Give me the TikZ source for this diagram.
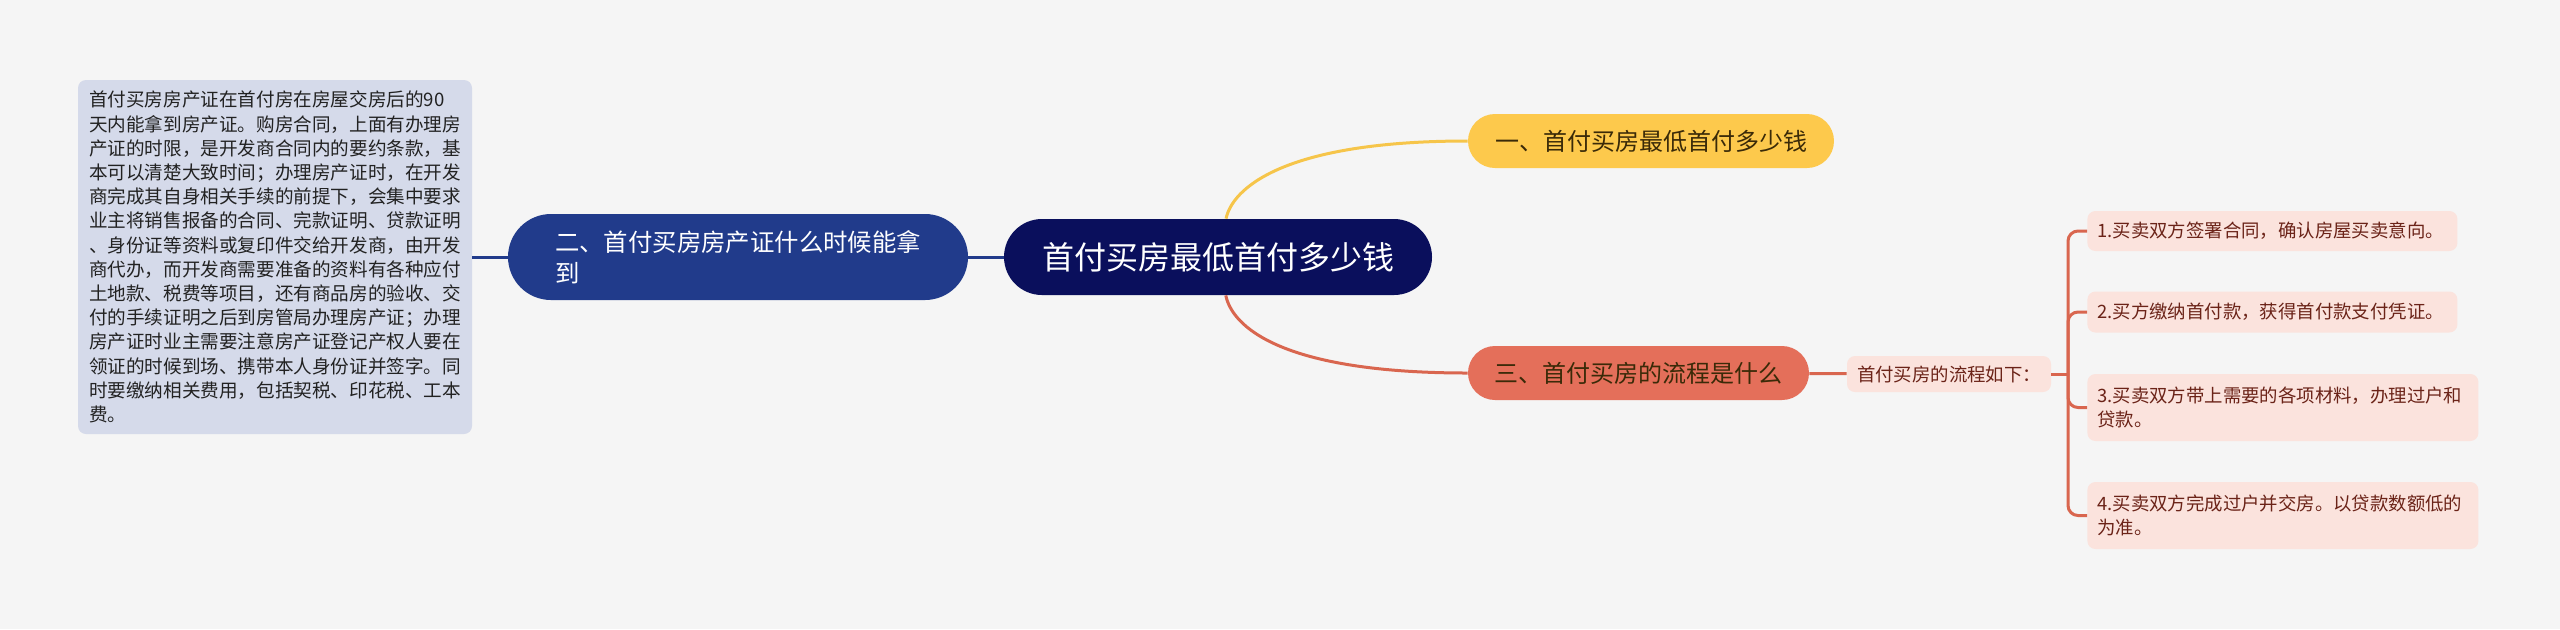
\documentclass[tikz,border=0pt]{standalone}
\usepackage{fontspec}
\setmainfont{Noto Sans CJK SC}
\usetikzlibrary{positioning,calc,backgrounds}
\definecolor{paper}{HTML}{F5F5F5}
\definecolor{rootc}{HTML}{0A0F5C}
\definecolor{bluec}{HTML}{213B8B}
\definecolor{notec}{HTML}{D5DAEA}
\definecolor{yellowc}{HTML}{FDC94C}
\definecolor{yellowln}{HTML}{F6C54A}
\definecolor{redc}{HTML}{E46F5A}
\definecolor{redln}{HTML}{D9664F}
\definecolor{pinkc}{HTML}{FBE3DD}
\definecolor{inkdark}{HTML}{222222}
\definecolor{inkbrown}{HTML}{3A2A08}
\definecolor{inkred}{HTML}{6B2318}
\tikzset{
  rootbox/.style={fill=rootc,text=white,rounded corners=19pt,minimum width=214pt,minimum height=38pt,font=\fontsize{16}{19}\selectfont},
  topic/.style={rounded corners=13.5pt,minimum height=27pt,font=\fontsize{12}{14}\selectfont},
  yellowbox/.style={topic,fill=yellowc,text=inkbrown,minimum width=183pt},
  redbox/.style={topic,fill=redc,text=inkbrown,minimum width=170.5pt},
  bluebox/.style={fill=bluec,text=white,rounded corners=21.5pt,minimum width=230pt,minimum height=43pt,align=left,font=\fontsize{12.2}{15.5}\selectfont},
  notebox/.style={fill=notec,text=inkdark,rounded corners=4pt,minimum width=197pt,minimum height=177pt,align=left,font=\fontsize{9.3}{12.1}\selectfont},
  listbox/.style={fill=pinkc,text=inkred,rounded corners=4pt,minimum width=102pt,minimum height=18pt,font=\fontsize{9.2}{11}\selectfont},
  stepbox/.style={fill=pinkc,text=inkred,rounded corners=4pt,anchor=west,align=left,inner xsep=5pt,font=\fontsize{9.2}{12}\selectfont},
  blueln/.style={draw=bluec,line width=1.5pt},
  yellowline/.style={draw=yellowln,line width=1.5pt},
  redline/.style={draw=redln,line width=1.5pt},
}

\begin{document}
\begin{tikzpicture}[x=0.5pt,y=-0.5pt]
  \fill[paper] (0,0) rectangle (2560,629);
  \useasboundingbox (0,0) rectangle (2560,629);
  % central topic and branches
  \node[rootbox] (root) at (1218,257) {首付买房最低首付多少钱};
  \node[yellowbox] (q1) at (1651,141) {一、首付买房最低首付多少钱};
  \node[bluebox] (q2) at (738,257) {二、首付买房房产证什么时候能拿\\到};
  \node[redbox] (q3) at (1638.5,373) {三、首付买房的流程是什么};
  \node[notebox] (note) at (275,257) {首付买房房产证在首付房在房屋交房后的90\\
    天内能拿到房产证。购房合同，上面有办理房\\
    产证的时限，是开发商合同内的要约条款，基\\
    本可以清楚大致时间；办理房产证时，在开发\\
    商完成其自身相关手续的前提下，会集中要求\\
    业主将销售报备的合同、完款证明、贷款证明\\
    、身份证等资料或复印件交给开发商，由开发\\
    商代办，而开发商需要准备的资料有各种应付\\
    土地款、税费等项目，还有商品房的验收、交\\
    付的手续证明之后到房管局办理房产证；办理\\
    房产证时业主需要注意房产证登记产权人要在\\
    领证的时候到场、携带本人身份证并签字。同\\
    时要缴纳相关费用，包括契税、印花税、工本\\
    费。};
  \node[listbox] (lst) at (1949,374) {首付买房的流程如下：};
  \node[stepbox,text width=175pt,minimum height=20pt] (s1) at (2087,231) {1.买卖双方签署合同，确认房屋买卖意向。};
  \node[stepbox,text width=175pt,minimum height=20.5pt] (s2) at (2087,312) {2.买方缴纳首付款，获得首付款支付凭证。};
  \node[stepbox,text width=185.5pt,minimum height=33.5pt] (s3) at (2087,407.5) {3.买卖双方带上需要的各项材料，办理过户和\\贷款。};
  \node[stepbox,text width=185.5pt,minimum height=33.5pt] (s4) at (2087,515.5) {4.买卖双方完成过户并交房。以贷款数额低的\\为准。};
  \coordinate (fork) at (2068,374);
  % connectors
  \draw[blueln] (root.west) -- (q2.east);
  \draw[blueln] (q2.west) -- (note.east);
  \draw[yellowline] (root) .. controls (1232,190) and (1280,141) .. (q1);
  \draw[redline] (root) .. controls (1232,326) and (1280,373) .. (q3);
  \draw[redline] (q3) -- (lst);
  \draw[redline] (lst.east) -- (fork);
  \foreach \s in {s1,s2,s3,s4}
    \draw[redline,rounded corners=5pt] (fork) |- (\s.west);
\end{tikzpicture}
\end{document}
